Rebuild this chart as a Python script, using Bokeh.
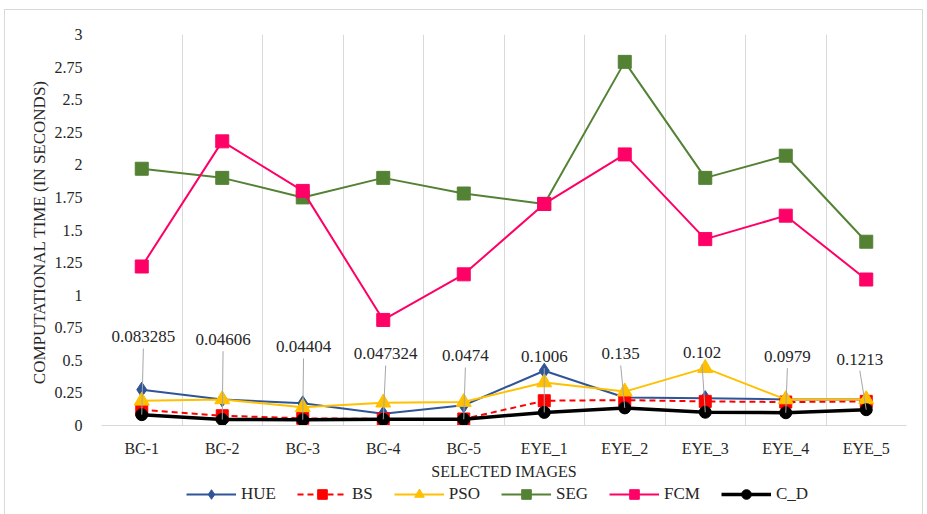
from bokeh.plotting import figure
from bokeh.layouts import column
from bokeh.models import FixedTicker, Legend, LegendItem, Range1d, ColumnDataSource
from bokeh.core.properties import value
from bokeh.embed import file_html
from bokeh.resources import INLINE

categories = ["BC-1", "BC-2", "BC-3", "BC-4", "BC-5", "EYE_1", "EYE_2", "EYE_3", "EYE_4", "EYE_5"]
hue = [0.275, 0.20, 0.17, 0.09, 0.155, 0.42, 0.215, 0.21, 0.20, 0.20]
bs = [0.12, 0.075, 0.055, 0.05, 0.05, 0.19, 0.195, 0.185, 0.18, 0.185]
pso = [0.19, 0.20, 0.14, 0.175, 0.18, 0.33, 0.26, 0.44, 0.20, 0.20]
seg = [1.97, 1.90, 1.75, 1.90, 1.78, 1.70, 2.79, 1.90, 2.07, 1.41]
fcm = [1.22, 2.18, 1.80, 0.81, 1.16, 1.70, 2.08, 1.43, 1.61, 1.12]
c_d = [0.083285, 0.04606, 0.04404, 0.047324, 0.0474, 0.1006, 0.135, 0.102, 0.0979, 0.1213]
c_d_labels = ["0.083285", "0.04606", "0.04404", "0.047324", "0.0474", "0.1006", "0.135", "0.102", "0.0979", "0.1213"]
y_ticks = [0, 0.25, 0.5, 0.75, 1, 1.25, 1.5, 1.75, 2, 2.25, 2.5, 2.75, 3]
y_tick_labels = ["0", "0.25", "0.5", "0.75", "1", "1.25", "1.5", "1.75", "2", "2.25", "2.5", "2.75", "3"]

# layout of the data labels (label centre, in category / data units)
label_dx = [0.02, 0.01, 0.01, 0.03, 0.02, 0.0, -0.05, -0.04, 0.02, -0.08]
label_y = [0.68, 0.66, 0.605, 0.55, 0.535, 0.53, 0.55, 0.56, 0.53, 0.51]

FONT = value("Liberation Serif")
xs = [i + 0.5 for i in range(len(categories))]

p = figure(width=917, height=472, output_backend="svg", toolbar_location=None,
           x_range=Range1d(0, len(categories)), y_range=Range1d(0, 3),
           min_border_left=96, min_border_right=16, min_border_top=24, min_border_bottom=56)
p.outline_line_color = None
p.background_fill_color = "white"
p.border_fill_color = "white"

# grids
p.ygrid.visible = False
p.xgrid.ticker = FixedTicker(ticks=list(range(len(categories) + 1)))
p.xgrid.grid_line_color = "#d9d9d9"
p.xgrid.grid_line_width = 1

# x axis
p.xaxis.ticker = FixedTicker(ticks=xs)
p.xaxis.major_label_overrides = {x: c for x, c in zip(xs, categories)}
p.xaxis.axis_line_color = "#d9d9d9"
p.xaxis.major_tick_line_color = None
p.xaxis.minor_tick_line_color = None
p.xaxis.major_label_text_font = "Liberation Serif"
p.xaxis.major_label_text_font_size = "16px"
p.xaxis.major_label_text_color = "#262626"
p.xaxis.major_label_standoff = 8
p.xaxis.axis_label = "SELECTED IMAGES"
p.xaxis.axis_label_text_font = "Liberation Serif"
p.xaxis.axis_label_text_font_size = "16px"
p.xaxis.axis_label_text_font_style = "normal"
p.xaxis.axis_label_text_color = "#262626"
p.xaxis.axis_label_standoff = 3

# y axis
p.yaxis.ticker = FixedTicker(ticks=y_ticks)
p.yaxis.major_label_overrides = {t: l for t, l in zip(y_ticks, y_tick_labels)}
p.yaxis.axis_line_color = None
p.yaxis.major_tick_line_color = None
p.yaxis.minor_tick_line_color = None
p.yaxis.major_label_text_font = "Liberation Serif"
p.yaxis.major_label_text_font_size = "16px"
p.yaxis.major_label_text_color = "#262626"
p.yaxis.major_label_standoff = 13
p.yaxis.axis_label = "COMPUTATIONAL  TIME (IN SECONDS)"
p.yaxis.axis_label_text_font = "Liberation Serif"
p.yaxis.axis_label_text_font_size = "17px"
p.yaxis.axis_label_text_font_style = "normal"
p.yaxis.axis_label_text_color = "#262626"
p.yaxis.axis_label_standoff = 3

series = [
    ("HUE", hue, "#2F5597", "diamond", 15, "solid", 2),
    ("BS", bs, "#FF0000", "square", 12, "6 4", 2),
    ("PSO", pso, "#FFC000", "triangle", 15, "solid", 2),
    ("SEG", seg, "#548235", "square", 13, "solid", 2),
    ("FCM", fcm, "#FF0066", "square", 13, "solid", 2),
    ("C_D", c_d, "#000000", "circle", 12, "solid", 3.5),
]

# separate strip for the legend (below the chart); its y range lies outside the data,
# so only the legend itself is visible there
leg = figure(width=917, height=32, output_backend="svg", toolbar_location=None,
             x_axis_type=None, y_axis_type=None,
             x_range=Range1d(0, len(categories)), y_range=Range1d(100, 101),
             min_border_left=96, min_border_right=16, min_border_top=0, min_border_bottom=0)
leg.outline_line_color = None
leg.xgrid.visible = False
leg.ygrid.visible = False
leg.border_fill_color = "white"
leg.background_fill_color = "white"

items = []
for name, vals, color, marker, size, dash, lw in series:
    src = ColumnDataSource(dict(x=xs, y=vals))
    p.line("x", "y", source=src, line_color=color, line_width=lw, line_dash=dash)
    p.scatter("x", "y", source=src, marker=marker, size=size, fill_color=color,
              line_color=color, line_width=1)
    ln = leg.line("x", "y", source=src, line_color=color, line_width=lw, line_dash=dash)
    sc = leg.scatter("x", "y", source=src, marker=marker, size=size, fill_color=color,
                     line_color=color, line_width=1)
    items.append(LegendItem(label=name, renderers=[ln, sc]))

# data labels for C_D with leader lines
lab_x = [x + d for x, d in zip(xs, label_dx)]
lab_src = ColumnDataSource(dict(x=lab_x, y=label_y, text=c_d_labels,
                                y0=[v - 0.09 for v in label_y], px=xs, py=c_d))
p.segment(x0="x", y0="y0", x1="px", y1="py", source=lab_src, line_color="#a6a6a6", line_width=1)
p.text(x="x", y="y", text="text", source=lab_src, text_font=FONT, text_font_size="17px",
       text_align="center", text_baseline="middle", text_color="#262626")

legend = Legend(items=items, orientation="horizontal", location=(85, 8),
                label_text_font="Liberation Serif", label_text_font_size="17px",
                label_text_color="#262626", glyph_width=50, glyph_height=24,
                label_standoff=5, spacing=21, padding=0, margin=0,
                border_line_color=None, background_fill_alpha=0)
leg.add_layout(legend)

layout = column(p, leg, spacing=0)
layout.styles = {"margin-top": "9px", "margin-left": "4px",
                 "border-top": "1px solid #d9d9d9", "border-left": "1px solid #d9d9d9",
                 "border-right": "1px solid #d9d9d9"}

open("out.html", "w").write(file_html(layout, INLINE))
